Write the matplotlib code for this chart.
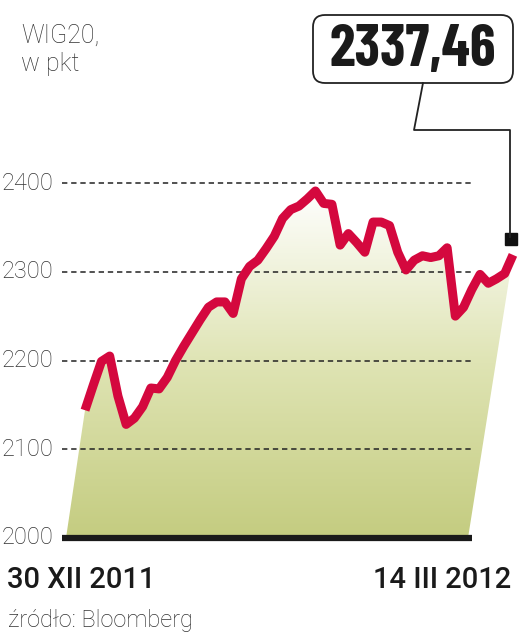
# WIG20 chart, 30 XII 2011 - 14 III 2012
import numpy as np
import matplotlib
matplotlib.use('Agg')
import matplotlib.pyplot as plt
from matplotlib.patches import FancyBboxPatch, Polygon
from matplotlib.transforms import IdentityTransform

# data: one value per trading session
sessions = np.arange(53)
wig20 = [2144, 2172, 2199, 2205, 2160, 2128, 2135, 2148, 2169, 2168,
         2181, 2200, 2216, 2231, 2246, 2260, 2266, 2266, 2253, 2292,
         2306, 2313, 2326, 2340, 2360, 2370, 2374, 2382, 2391, 2377,
         2376, 2330, 2343, 2333, 2322, 2356, 2356, 2352, 2322, 2302,
         2313, 2318, 2316, 2318, 2327, 2250, 2260, 2280, 2297, 2287,
         2292, 2298, 2319]
last_value = 2337.46
last_label = '2337,46'
y_ticks = [2000, 2100, 2200, 2300, 2400]
date_start = '30 XII 2011'
date_end = '14 III 2012'
title = 'WIG20,\nw pkt'
source = 'źródło: Bloomberg'

W, H = 522, 640
fig = plt.figure(figsize=(W / 100, H / 100), dpi=100)
ax = fig.add_axes([0, 0, 1, 1])
ax.axis('off')

# pixel mapping: session 0 at x=85, 8.23 px per session; 2000 at y=538, 0.8875 px per point
px_per_day = 8.23
px_per_pt = 0.8875
ax.set_xlim(-85 / px_per_day, (W - 85) / px_per_day)
ax.set_ylim(2000 - (H - 538) / px_per_pt, 2000 + 538 / px_per_pt)

def px(x, y):
    # image pixel (top-left origin) -> display coords
    return x, H - y

ident = IdentityTransform()
grey = '#333333'

# gradient fill under the line, slanted sides
left_bottom = (66 - 85) / px_per_day
right_bottom = (468 - 85) / px_per_day
verts = list(zip(sessions, wig20)) + [(right_bottom, 2000), (left_bottom, 2000)]
poly = Polygon(verts, closed=True, facecolor='none', edgecolor='none')
ax.add_patch(poly)
grad = np.linspace(0, 1, 256).reshape(-1, 1)
cmap = matplotlib.colors.LinearSegmentedColormap.from_list(
    'fillg', ['#c4cc80', '#dfe4b4', '#ffffff'])
img = ax.imshow(grad, cmap=cmap, origin='lower', aspect='auto',
                extent=[left_bottom, sessions[-1], 2000, 2395], zorder=1)
img.set_clip_path(poly)

# gridlines
x0, x1 = (62 - 85) / px_per_day, (472 - 85) / px_per_day
for t in y_ticks[1:]:
    ax.plot([x0, x1], [t, t], color='#222222', lw=1.1, ls=(0, (3.5, 2.5)), zorder=2)
for t in y_ticks:
    ax.text(x0 - 1.0, t, str(t), ha='right', va='center', fontsize=17,
            fontweight='light', family='Roboto', color=grey)
ax.plot([x0, x1], [2000, 2000], color='#1a1a1a', lw=4.5, solid_capstyle='butt', zorder=3)

# the index line
ax.plot(sessions, wig20, color='#d4083e', lw=6.5, solid_joinstyle='round',
        solid_capstyle='butt', zorder=4)
ax.plot([sessions[-1] - 0.2], [last_value], marker='s', ms=8, color='#111111', zorder=5)

# callout
box = FancyBboxPatch(px(313, 83), 200, 68, boxstyle='round,pad=0,rounding_size=12',
                     transform=ident, facecolor='white', edgecolor='#222222', lw=1.3)
fig.patches.append(box)
fig.text(*px(413, 51), last_label, transform=ident, ha='center', va='center',
         fontsize=42, fontweight='bold', family='Barlow Condensed', color='#1a1a1a')
lx = [423, 414, 510, 510]
ly = [83, 130, 130, 237]
fig.lines.append(plt.Line2D(lx, [H - v for v in ly], transform=ident, color='#222222', lw=1.3))

# texts
fig.text(*px(21, 24), title, transform=ident, ha='left', va='top', fontsize=18,
         fontweight='light', family='Roboto', color=grey, linespacing=1.2)
fig.text(*px(7, 580), date_start, transform=ident, ha='left', va='center',
         fontsize=21, fontweight='medium', family='Roboto', color='#1a1a1a')
fig.text(*px(511, 580), date_end, transform=ident, ha='right', va='center',
         fontsize=21, fontweight='medium', family='Roboto', color='#1a1a1a')
fig.text(*px(8, 621), source, transform=ident, ha='left', va='center', fontsize=17,
         fontweight='light', family='Roboto', color=grey)

fig.savefig('out.png', dpi=100, facecolor='white')
